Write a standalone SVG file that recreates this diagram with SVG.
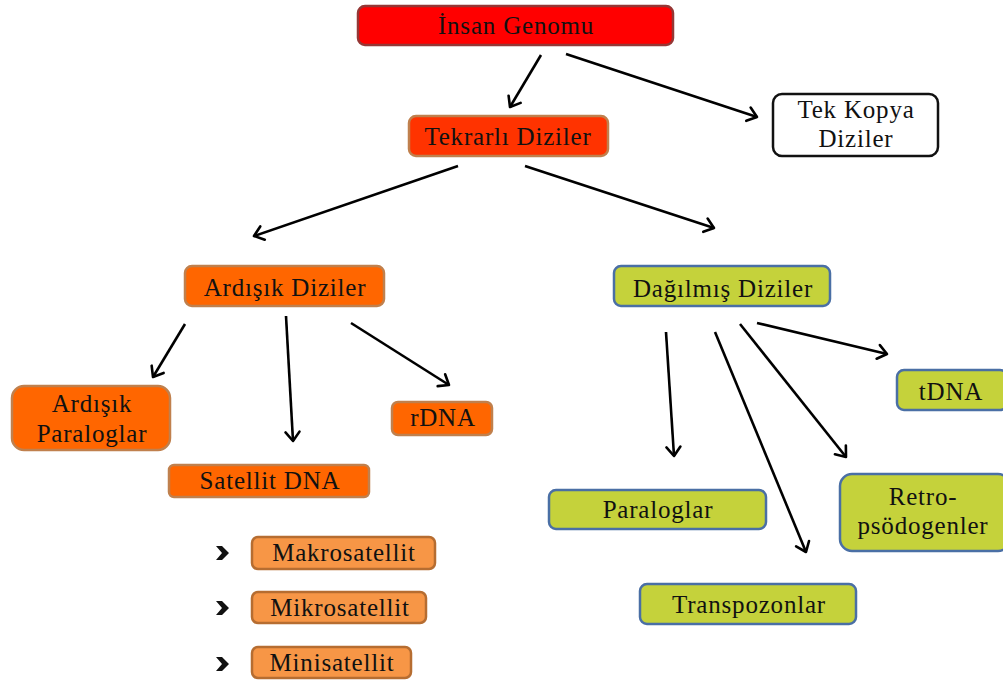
<svg xmlns="http://www.w3.org/2000/svg" width="1003" height="683" viewBox="0 0 1003 683">
<defs>
<marker id="ah" markerUnits="userSpaceOnUse" markerWidth="24" markerHeight="24" refX="12" refY="12" orient="auto" viewBox="0 0 24 24">
<path d="M3,5 L12,12 L3,19" fill="none" stroke="#000" stroke-width="2.6" stroke-linecap="round" stroke-linejoin="round"/>
</marker>
</defs>
<style>
text{font-size:25px;fill:#111;text-anchor:middle;letter-spacing:0.8px}
.red rect{fill:#FF0000;stroke:#953735;stroke-width:2.5}
.or1 rect{fill:#FF3300;stroke:#C0804D;stroke-width:2.5}
.or2 rect{fill:#FF6600;stroke:#C0804D;stroke-width:2.5}
.or3 rect{fill:#F79646;stroke:#B66D31;stroke-width:2.5}
.wh rect{fill:#FFFFFF;stroke:#111;stroke-width:2.5}
.gr rect{fill:#C5D23B;stroke:#4A6FA5;stroke-width:2.5}
#connectors line{stroke:#000;stroke-width:2.6;marker-end:url(#ah)}
.bul{fill:#111}
</style>
<g id="connectors">
<line x1="541" y1="55" x2="510" y2="107"/>
<line x1="566" y1="54" x2="757" y2="117"/>
<line x1="458" y1="166" x2="254" y2="236"/>
<line x1="525" y1="166" x2="714" y2="228"/>
<line x1="185" y1="324" x2="153" y2="377"/>
<line x1="286" y1="316" x2="293" y2="441"/>
<line x1="351" y1="323" x2="449" y2="385"/>
<line x1="666" y1="332" x2="674" y2="456"/>
<line x1="715" y1="332" x2="806" y2="552"/>
<line x1="740" y1="324" x2="846" y2="457"/>
<line x1="757" y1="323" x2="887" y2="354"/>
</g>
<g font-family="'Liberation Serif', 'Times New Roman', serif">
<g id="insan" class="red"><rect x="358" y="6" width="315" height="39" rx="7"/><text x="516" y="34">İnsan Genomu</text></g>
<g id="tekrarli" class="or1"><rect x="409" y="116" width="199" height="40" rx="7"/><text x="508" y="145">Tekrarlı Diziler</text></g>
<g id="tekkopya" class="wh"><rect x="773" y="94" width="165" height="62" rx="9"/><text x="856" y="118">Tek Kopya</text><text x="856" y="147">Diziler</text></g>
<g id="ardisik" class="or2"><rect x="185" y="266" width="199" height="40" rx="7"/><text x="285" y="296">Ardışık Diziler</text></g>
<g id="dagilmis" class="gr"><rect x="614" y="266" width="216" height="40" rx="7"/><text x="723" y="297">Dağılmış Diziler</text></g>
<g id="ardparalog" class="or2"><rect x="12" y="386" width="158" height="64" rx="12"/><text x="92" y="412">Ardışık</text><text x="92" y="442">Paraloglar</text></g>
<g id="rdna" class="or2"><rect x="392" y="402" width="100" height="33" rx="6"/><text x="443" y="426">rDNA</text></g>
<g id="satellit" class="or2"><rect x="169" y="465" width="200" height="32" rx="5"/><text x="270" y="489">Satellit DNA</text></g>
<g id="makro" class="or3"><rect x="252" y="537" width="183" height="32" rx="6"/><text x="344" y="561">Makrosatellit</text></g>
<g id="mikro" class="or3"><rect x="252" y="592" width="174" height="31" rx="6"/><text x="340" y="616">Mikrosatellit</text></g>
<g id="mini" class="or3"><rect x="252" y="647" width="159" height="31" rx="6"/><text x="332" y="671">Minisatellit</text></g>
<g id="tdna" class="gr"><rect x="897" y="370" width="110" height="40" rx="7"/><text x="951" y="400">tDNA</text></g>
<g id="retro" class="gr"><rect x="840" y="474" width="170" height="77" rx="12"/><text x="923" y="505">Retro-</text><text x="923" y="534">psödogenler</text></g>
<g id="paraloglar" class="gr"><rect x="549" y="490" width="217" height="39" rx="7"/><text x="658" y="518">Paraloglar</text></g>
<g id="transpozonlar" class="gr"><rect x="640" y="584" width="216" height="40" rx="7"/><text x="749" y="613">Transpozonlar</text></g>
</g>
<g id="bullets">
<path class="bul" d="M216,546 L222,546 L229,553 L222,560 L216,560 L222,553 Z"/>
<path class="bul" d="M216,601 L222,601 L229,608 L222,615 L216,615 L222,608 Z"/>
<path class="bul" d="M216,657 L222,657 L229,664 L222,671 L216,671 L222,664 Z"/>
</g>
</svg>
